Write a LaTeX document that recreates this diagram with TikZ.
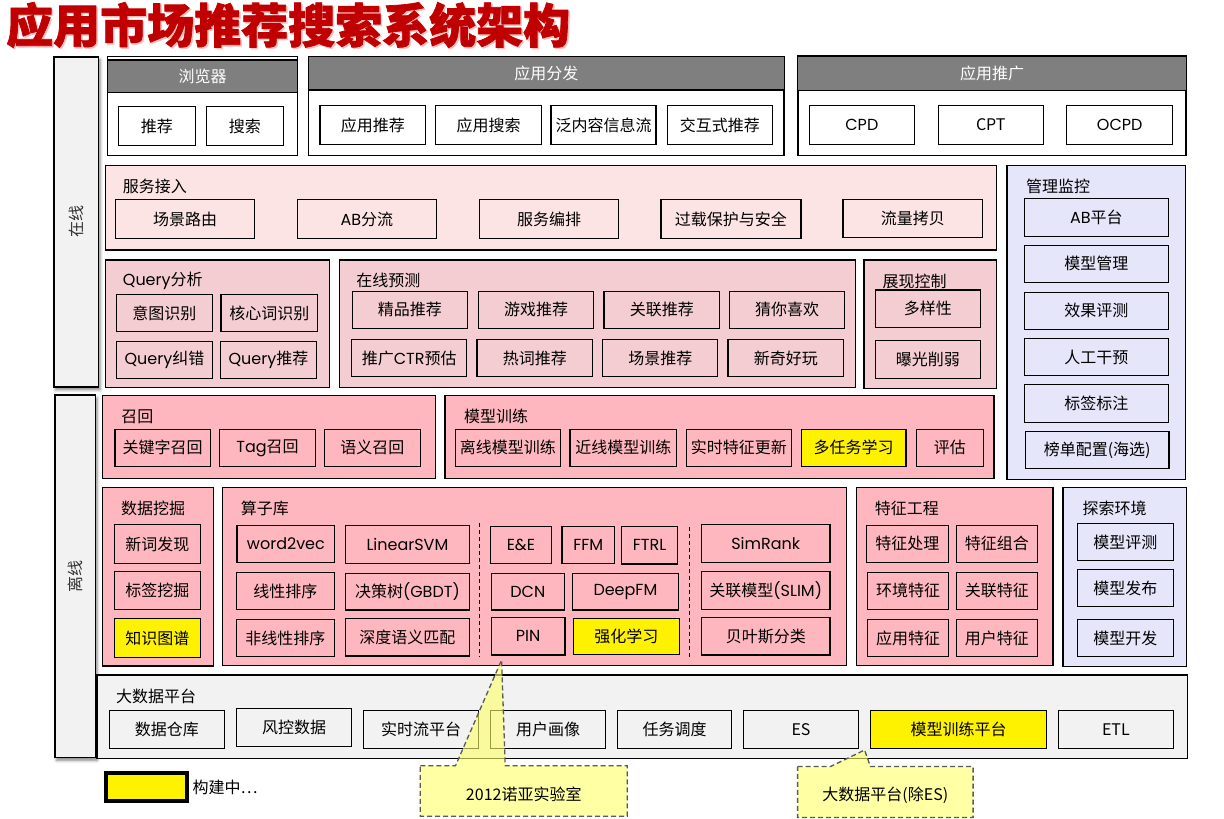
\documentclass[tikz,border=0pt]{standalone}
\usepackage{fontspec}
\setmainfont{Noto Sans CJK SC}
\newfontfamily\latfont{Poppins}
\usetikzlibrary{calc,shadows.blur}
\definecolor{hdrgray}{RGB}{127,127,127}
\definecolor{pinkA}{RGB}{252,228,228}
\definecolor{pinkB}{RGB}{243,205,209}
\definecolor{pinkC}{RGB}{255,183,191}
\definecolor{lav}{RGB}{230,230,250}
\definecolor{grayF}{RGB}{242,242,242}
\definecolor{titlered}{RGB}{192,0,0}
\definecolor{callfill}{RGB}{255,255,102}
\definecolor{calldraw}{RGB}{89,89,89}
\newcommand\la[1]{{\latfont #1}}
\newcommand\mybx[7][]{%
  \pgfmathsetmacro\bxw{#5-#3}\pgfmathsetmacro\bxh{#6-#4}%
  \node[cell,minimum width=\bxw pt,minimum height=\bxh pt,#1] (#2) at ({(#3+#5)/2},{(#4+#6)/2}) {#7};}
\tikzset{
  txt/.style={font=\fontsize{16}{19}\selectfont},
  cell/.style={draw,line width=1.3pt,inner sep=0pt,txt,align=center},
  grp/.style={cell,line width=1.5pt},
  hdr/.style={cell,fill=hdrgray,text=white},
  glabel/.style={anchor=west,inner sep=0pt,txt},
  sidebar/.style={cell,fill=grayF,line width=1.6pt,blur shadow={shadow xshift=1.5pt,shadow yshift=-3pt,shadow blur radius=3pt,shadow opacity=50}},
  calloutbox/.style={draw=calldraw,line width=1.3pt,dash pattern=on 5pt off 3pt,fill=callfill,fill opacity=0.6},
  sepline/.style={line width=1.1pt,dash pattern=on 4pt off 3pt}
}
\begin{document}
\begin{tikzpicture}[x=1pt,y=-1pt]
\useasboundingbox (0,0) rectangle (1224,819);
% title
\node[anchor=west,inner sep=0pt,font=\fontsize{47}{50}\selectfont\bfseries\addfontfeature{FakeBold=1.5},text=red!25] (titleshadow) at (7.5,26.5) {应用市场推荐搜索系统架构};
\node[anchor=west,inner sep=0pt,font=\fontsize{47}{50}\selectfont\bfseries\addfontfeature{FakeBold=1.5},text=titlered] (title) at (6,25) {应用市场推荐搜索系统架构};
% side bars
\mybx[sidebar]{zx}{54}{56.7}{98.6}{386.7}{}
\node[rotate=90,txt,text=black!80] (zxt) at (zx.center) {在线};
\mybx[sidebar]{lx}{55}{395}{95.5}{757.3}{}
\node[rotate=90,txt,text=black!80] (lxt) at (lx.center) {离线};
% top row
\mybx[grp,fill=white]{brw}{107.5}{56.7}{297.7}{155.3}{}
\mybx[hdr]{brwh}{107.5}{60}{297.7}{92.3}{浏览器}
\mybx{brw1}{118.3}{106.3}{195.6}{145.7}{推荐}
\mybx{brw2}{206.3}{106.3}{283.6}{145.7}{搜索}
\mybx[grp,fill=white]{ff}{308.5}{56.7}{784.2}{155.7}{}
\mybx[hdr]{ffh}{308.5}{56.7}{784.2}{90}{应用分发}
\mybx{ff1}{320}{105.3}{425.6}{144.7}{应用推荐}
\mybx{ff2}{435.5}{105.3}{541.5}{144.7}{应用搜索}
\mybx{ff3}{551}{105.3}{656}{144.7}{泛内容信息流}
\mybx{ff4}{667.3}{105.3}{772.3}{144.7}{交互式推荐}
\mybx[grp,fill=white]{tg}{797.8}{56}{1186.2}{155.7}{}
\mybx[hdr]{tgh}{797.8}{56}{1186.2}{90.7}{应用推广}
\mybx{tg1}{809.3}{105.3}{914.4}{144.3}{\la{CPD}}
\mybx{tg2}{938.2}{105.3}{1043.3}{144.3}{CPT}
\mybx{tg3}{1066.8}{105.3}{1172.6}{144.3}{\la{OCPD}}
% service access
\mybx[grp,fill=pinkA]{fw}{105.5}{165.5}{996.7}{250}{}
\node[glabel] (fwl) at (122.7,186.5) {服务接入};
\mybx{fw1}{115.4}{199.3}{254.7}{238.7}{场景路由}
\mybx{fw2}{297.2}{199.3}{436.5}{238.7}{\la{AB}分流}
\mybx{fw3}{479.4}{199.3}{618.7}{238.7}{服务编排}
\mybx{fw4}{660.9}{199.3}{801}{238.7}{过载保护与安全}
\mybx{fw5}{843.1}{199.3}{982.4}{237.3}{流量拷贝}
% management
\mybx[grp,fill=lav]{gl}{1007}{165.7}{1185.7}{479.3}{}
\node[glabel] (gll) at (1025.8,186) {管理监控};
\mybx{gl1}{1024.2}{198.3}{1168.6}{236.3}{\la{AB}平台}
\mybx{gl2}{1024.2}{245.3}{1168.6}{282.3}{模型管理}
\mybx{gl3}{1024.2}{292.3}{1168.6}{329.3}{效果评测}
\mybx{gl4}{1024.2}{338.3}{1168.6}{375.7}{人工干预}
\mybx{gl5}{1024.2}{384.3}{1168.6}{422.3}{标签标注}
\mybx{gl6}{1025.4}{431.3}{1169}{468.3}{榜单配置(海选)}
% query
\mybx[grp,fill=pinkB]{qa}{105.5}{260}{329.4}{387.7}{}
\node[glabel] (qal) at (122.7,280.7) {\la{Query}分析};
\mybx{qa1}{116.2}{294.3}{212.6}{331.7}{意图识别}
\mybx{qa2}{221}{294.3}{317.5}{331.7}{核心词识别}
\mybx{qa3}{116.2}{341.3}{212.6}{378.3}{\la{Query}纠错}
\mybx{qa4}{220.3}{341.3}{316.7}{378.3}{\la{Query}推荐}
% online prediction
\mybx[grp,fill=pinkB]{op}{339.3}{260}{855.5}{387.7}{}
\node[glabel] (opl) at (356.2,280.7) {在线预测};
\mybx{op1}{352.3}{291.3}{467.5}{328.3}{精品推荐}
\mybx{op2}{478.3}{291.3}{593.8}{328.3}{游戏推荐}
\mybx{op3}{604}{291.3}{719.8}{328.3}{关联推荐}
\mybx{op4}{729.3}{291.3}{844.7}{328.3}{猜你喜欢}
\mybx{op5}{351.6}{339.3}{466.8}{376.7}{推广\la{CTR}预估}
\mybx{op6}{477.1}{339.3}{592.7}{376.7}{热词推荐}
\mybx{op7}{602.8}{339.3}{717.8}{376.7}{场景推荐}
\mybx{op8}{728.1}{339.3}{843.5}{376.7}{新奇好玩}
% display control
\mybx[grp,fill=pinkB]{dc}{864.2}{260}{996.7}{388.7}{}
\node[glabel] (dcl) at (882.5,281.7) {展现控制};
\mybx{dc1}{875.4}{290}{980.4}{327.3}{多样性}
\mybx{dc2}{875.4}{340.3}{980.4}{378.3}{曝光削弱}
% recall
\mybx[grp,fill=pinkC]{rc}{102.4}{395.7}{435.4}{478.3}{}
\node[glabel] (rcl) at (121.2,416.7) {召回};
\mybx{rc1}{115}{429.3}{210.4}{466.3}{关键字召回}
\mybx{rc2}{219.5}{429.3}{315.6}{466.3}{\la{Tag}召回}
\mybx{rc3}{324.4}{429.3}{420.5}{466.3}{语义召回}
% model training
\mybx[grp,fill=pinkC]{mt}{445}{395.7}{994}{478.3}{}
\node[glabel] (mtl) at (464,416.7) {模型训练};
\mybx{mt1}{455.3}{429.3}{560.5}{466.3}{离线模型训练}
\mybx{mt2}{570.1}{429.3}{676.4}{466.3}{近线模型训练}
\mybx{mt3}{686.4}{429.3}{791.4}{466.3}{实时特征更新}
\mybx[fill=yellow]{mt4}{801.4}{429.3}{906}{466.3}{多任务学习}
\mybx{mt5}{916.4}{429.3}{983.2}{466.3}{评估}
% data mining
\mybx[grp,fill=pinkC]{dm}{102.4}{487.7}{213.4}{666}{}
\node[glabel] (dml) at (121,508.3) {数据挖掘};
\mybx{dm1}{114.3}{524.7}{200.4}{563.3}{新词发现}
\mybx{dm2}{114.3}{571.7}{200.4}{609.3}{标签挖掘}
\mybx[fill=yellow]{dm3}{114.3}{618.7}{200.4}{657.3}{知识图谱}
% operator library
\mybx[grp,fill=pinkC]{al}{222.6}{487.7}{846.3}{665.3}{}
\node[glabel] (all) at (240.6,508) {算子库};
\mybx{al1}{237.1}{525.7}{334.7}{562.3}{\la{word2vec}}
\mybx{al2}{345.4}{525.7}{469.4}{563.3}{\la{LinearSVM}}
\mybx{al3}{236.4}{572.7}{334.3}{609.3}{线性排序}
\mybx{al4}{345.4}{573.3}{469.4}{610}{决策树\la{(GBDT)}}
\mybx{al5}{236.4}{619.3}{334.3}{656.7}{非线性排序}
\mybx{al6}{345.4}{618.7}{469.4}{656}{深度语义匹配}
\coordinate (d1a) at (479.4,523);
\coordinate (d1b) at (479.4,656.7);
\draw[sepline] (d1a) -- (d1b);
\mybx{al7}{490.5}{526.7}{551.3}{563.7}{\la{E\&E}}
\mybx{al8}{562}{526.7}{614.5}{563.7}{\la{FFM}}
\mybx{al9}{621.4}{526.7}{677.6}{564}{\la{FTRL}}
\mybx{al10}{491.3}{573.3}{564.3}{610}{\la{DCN}}
\mybx{al11}{572.4}{573.3}{678.4}{610}{\la{DeepFM}}
\mybx{al12}{491.3}{617.7}{565.1}{655}{\la{PIN}}
\mybx[fill=yellow]{al13}{573.5}{618.7}{679.2}{654.3}{强化学习}
\coordinate (d2a) at (689.5,526.7);
\coordinate (d2b) at (689.5,658);
\draw[sepline] (d2a) -- (d2b);
\mybx{al14}{701.5}{524.7}{830}{562.3}{\la{SimRank}}
\mybx{al15}{701.5}{571.7}{830}{609.3}{关联模型\la{(SLIM)}}
\mybx{al16}{701.5}{617.3}{830}{655}{贝叶斯分类}
% feature engineering
\mybx[grp,fill=pinkC]{fe}{856.7}{487.7}{1053.2}{665.3}{}
\node[glabel] (fel) at (874.6,508.3) {特征工程};
\mybx{fe1}{866.2}{525.3}{948.6}{562.3}{特征处理}
\mybx{fe2}{956.5}{525.3}{1037.3}{562.3}{特征组合}
\mybx{fe3}{867.4}{572.3}{948.6}{609.3}{环境特征}
\mybx{fe4}{956.5}{572.3}{1037.3}{609.3}{关联特征}
\mybx{fe5}{867.4}{619.3}{948.6}{656.7}{应用特征}
\mybx{fe6}{956.5}{619.3}{1037.3}{656.7}{用户特征}
% exploration
\mybx[grp,fill=lav]{ex}{1063.2}{487.7}{1186.5}{666.7}{}
\node[glabel] (exl) at (1082.3,508.3) {探索环境};
\mybx{ex1}{1077.5}{523.7}{1173.4}{560.7}{模型评测}
\mybx{ex2}{1077.5}{569.3}{1173.4}{606.7}{模型发布}
\mybx{ex3}{1077.5}{619.3}{1173.4}{656.7}{模型开发}
% big data
\mybx[grp,fill=grayF]{bd}{97}{675}{1187.7}{758.7}{}
\node[glabel] (bdl) at (115.8,696.7) {大数据平台};
\mybx{bd1}{109.3}{710.7}{224.5}{748.3}{数据仓库}
\mybx{bd2}{236.4}{708.7}{351.6}{746.7}{风控数据}
\mybx{bd3}{363.4}{710.7}{478.6}{748.3}{实时流平台}
\mybx{bd4}{490.5}{710.7}{605.7}{748.3}{用户画像}
\mybx{bd5}{617.5}{710.3}{731.7}{748.3}{任务调度}
\mybx{bd6}{743.3}{710.3}{858.7}{748.3}{ES}
\mybx[fill=yellow]{bd7}{870.6}{710.3}{1046.5}{748.3}{模型训练平台}
\mybx{bd8}{1058.4}{710.3}{1173.4}{748.3}{ETL}
% legend
\mybx[fill=yellow,line width=3.8pt]{leg}{105.7}{772.7}{187}{800.7}{}
\node[glabel] (legt) at (192.5,787.5) {构建中…};
% callout 1
\coordinate (tip1) at (501.6,660);
\node[inner sep=0pt,minimum width=206.5pt,minimum height=50pt] (c1) at (523.75,791) {};
\path[calloutbox] (c1.north west) -- ($(c1.north west)+(35.2,0)$) -- (tip1) -- ($(c1.north west)+(84.9,0)$) -- (c1.north east) -- (c1.south east) -- (c1.south west) -- cycle;
\node[txt,inner sep=0pt] (c1t) at ($(c1.center)+(0,3)$) {2012诺亚实验室};
% callout 2
\coordinate (tip2) at (864.6,750);
\node[inner sep=0pt,minimum width=175.1pt,minimum height=50.6pt] (c2) at (885.35,792) {};
\path[calloutbox] (c2.north west) -- ($(c2.north west)+(33,0)$) -- (tip2) -- ($(c2.north west)+(72.8,0)$) -- (c2.north east) -- (c2.south east) -- (c2.south west) -- cycle;
\node[txt,inner sep=0pt] (c2t) at ($(c2.center)+(0,3)$) {大数据平台(除ES)};
\end{tikzpicture}
\end{document}
